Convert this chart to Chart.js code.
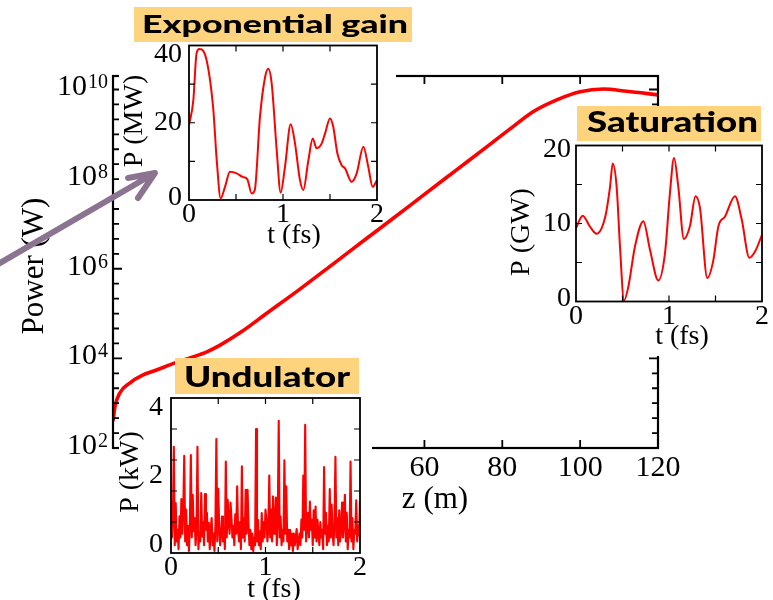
<!DOCTYPE html>
<html><head><meta charset="utf-8">
<script src="https://cdn.jsdelivr.net/npm/chart.js@4.4.0/dist/chart.umd.min.js"></script>
<style>
html,body{margin:0;padding:0;background:#fff;overflow:hidden;}
#wrap{position:relative;width:773px;height:600px;}
canvas{position:absolute;left:0;top:0;}
</style></head><body>
<div id="wrap">
<canvas id="main" width="773" height="600"></canvas>
<canvas id="gain" width="773" height="600"></canvas>
<canvas id="und" width="773" height="600"></canvas>
<canvas id="sat" width="773" height="600"></canvas>
<canvas id="over" width="773" height="600"></canvas>
</div>
<script>
// ---------------- data ----------------
// main curve: undulator position z (m) and power (W)
const mainZ = [-20, -19.5, -18.3, -15.7, -12.4, -8.8, -4.1, 0.5, 4.1, 7.4, 12.6, 19.4, 28.1, 36.6, 45.2, 51.9, 60, 68, 76, 82, 88, 94, 100, 106, 112, 120];
const mainPower = [398, 832, 1660, 2818, 4217, 5495, 7943, 10715, 13964, 19498, 37154, 1.0e5, 3.548e5, 1.288e6, 4.786e6, 1.318e7, 4.571e7, 1.549e8, 5.248e8, 1.318e9, 3.236e9, 5.888e9, 8.913e9, 1.023e10, 9.12e9, 7.586e9];
const mainYTickExponents = [2, 4, 6, 8, 10];
const mainXTickLabels = [0, 20, 40, 60, 80, 100, 120];

// inset "Exponential gain": t (fs), P (MW)
const gainT = [0, 0.046, 0.08, 0.11, 0.152, 0.205, 0.259, 0.295, 0.337, 0.383, 0.436, 0.507, 0.57, 0.62, 0.667, 0.70, 0.755, 0.81, 0.844, 0.88, 0.933, 0.975, 1.021, 1.082, 1.128, 1.18, 1.216, 1.27, 1.316, 1.358, 1.411, 1.447, 1.5, 1.535, 1.578, 1.624, 1.66, 1.73, 1.784, 1.855, 1.907, 1.954, 2.0];
const gainP = [19.4, 25.8, 37.9, 39.1, 38.6, 34.0, 23.3, 10.3, 0.4, 3.4, 7.3, 6.9, 6.0, 5.4, 1.7, 2.6, 21.5, 31.9, 34.0, 30.1, 12.9, 1.9, 8.6, 19.6, 14.6, 5.2, 2.6, 10.3, 15.9, 13.4, 14.6, 17.2, 21.1, 18.9, 12.1, 9.0, 8.2, 4.7, 6.9, 13.8, 8.6, 3.4, 5.2];
const gainXTickLabels = [0, 1, 2];
const gainYTickLabels = [0, 20, 40];

// inset "Saturation": t (fs), P (GW)
const satT = [0, 0.072, 0.15, 0.222, 0.315, 0.366, 0.395, 0.437, 0.473, 0.516, 0.563, 0.634, 0.724, 0.796, 0.885, 0.957, 1.01, 1.054, 1.1, 1.16, 1.226, 1.285, 1.333, 1.412, 1.477, 1.53, 1.602, 1.71, 1.782, 1.864, 1.925, 2.0];
const satP = [9.4, 11.0, 9.6, 8.7, 10.9, 14.7, 17.7, 14.7, 7.05, 0.13, 1.9, 7.05, 10.3, 6.6, 2.7, 6.2, 13.9, 18.4, 14.7, 8.0, 9.7, 13.5, 12.0, 3.0, 5.3, 9.6, 10.9, 13.5, 10.5, 5.6, 6.4, 8.55];
const satXTickLabels = [0, 1, 2];
const satYTickLabels = [0, 10, 20];

// inset "Undulator": P (kW) sampled every 0.01 fs from t = 0 to 2
const undStep = 0.01;
const undP = [
1.30,0.40,0.90,2.74,0.20,1.29,0.30,0.60,0.10,0.95,
0.40,1.39,0.50,1.10,2.51,0.30,1.12,0.20,0.70,0.05,
0.80,2.53,0.40,1.50,0.56,0.90,0.20,0.60,2.74,0.10,
0.50,0.30,1.55,0.43,0.80,0.20,1.52,0.60,1.04,0.30,
0.78,0.10,0.60,0.90,0.20,0.50,0.05,0.70,2.94,0.30,
1.66,0.68,0.20,0.50,0.94,0.30,0.60,0.10,2.36,0.40,
1.37,0.80,0.50,1.30,0.90,0.40,0.70,0.20,1.00,0.50,
1.72,0.60,0.30,0.80,0.10,2.24,0.40,0.90,0.30,1.63,
0.50,1.63,0.78,0.20,0.60,0.10,0.50,0.05,0.40,0.20,
3.20,0.30,0.86,0.20,0.56,0.10,1.03,0.30,0.80,0.40,
1.12,0.86,0.30,0.60,2.00,0.40,1.12,0.30,1.46,0.50,
0.70,1.43,0.20,0.90,3.41,0.40,0.94,0.20,0.60,0.30,
2.39,0.50,1.72,0.30,0.60,0.10,0.60,0.20,0.50,0.05,
0.50,0.20,0.40,0.62,0.10,0.30,0.50,0.20,0.86,0.40,
2.00,0.60,3.31,0.30,0.70,1.04,0.40,1.33,0.60,0.86,
0.20,1.10,0.40,1.20,0.30,0.86,0.50,0.20,0.80,0.40,
0.60,0.10,2.22,0.50,1.04,0.20,0.70,0.30,1.65,0.40,
1.25,0.50,0.20,0.80,2.48,0.40,0.90,0.20,1.10,0.30,
0.60,1.30,0.40,0.80,1.50,0.30,1.04,0.10,0.60,0.40,
2.36,0.30,0.90,0.10,0.60,0.50,1.36,0.30,0.70,0.45,
1.33];
const undXTickLabels = [0, 1, 2];
const undYTickLabels = [0, 2, 4];
const undYTickMarks = [0.8, 1.6, 2.4, 3.2];

// ---------------- helpers ----------------
const SERIF = '"Liberation Serif","Times New Roman",serif';
const RED = '#ff0000';

const decor = {
  id: 'decor',
  beforeDraw(chart, _a, o) {
    if (!o.cover) return;
    const c = o.cover, ctx = chart.ctx;
    ctx.save(); ctx.fillStyle = '#fff';
    ctx.fillRect(c[0], c[1], c[2] - c[0], c[3] - c[1]);
    ctx.restore();
  },
  afterDatasetsDraw(chart, _a, o) {
    const ctx = chart.ctx, a = chart.chartArea, xs = chart.scales.x, ys = chart.scales.y;
    ctx.save();
    ctx.strokeStyle = '#000';
    ctx.lineWidth = o.frameWidth;
    ctx.strokeRect(a.left, a.top, a.right - a.left, a.bottom - a.top);
    ctx.lineWidth = o.tickWidth;
    ctx.beginPath();
    o.xMarks.forEach(m => {
      const p = xs.getPixelForValue(m.v);
      ctx.moveTo(p, a.bottom); ctx.lineTo(p, a.bottom - m.len);
      ctx.moveTo(p, a.top); ctx.lineTo(p, a.top + m.len);
    });
    o.yMarks.forEach(m => {
      const p = ys.getPixelForValue(m.v);
      ctx.moveTo(a.left, p); ctx.lineTo(a.left + m.len, p);
      ctx.moveTo(a.right, p); ctx.lineTo(a.right - m.len, p);
    });
    ctx.stroke();
    ctx.fillStyle = '#000';
    ctx.font = o.tickFont;
    ctx.textAlign = 'center'; ctx.textBaseline = 'middle';
    o.xLabels.forEach(l => ctx.fillText(l.text, xs.getPixelForValue(l.v), a.bottom + o.xLabelDy));
    o.yLabels.forEach(l => {
      let p = ys.getPixelForValue(l.v);
      p = Math.min(Math.max(p, a.top + o.yClampTop), a.bottom - o.yClampBottom);
      const xr = a.left - o.yLabelGap;
      if (l.exp !== undefined) {
        ctx.textBaseline = 'alphabetic'; ctx.textAlign = 'right';
        ctx.font = o.supFont;
        const w = ctx.measureText(l.exp).width;
        ctx.fillText(l.exp, xr, p + o.supDy);
        ctx.font = o.tickFont;
        ctx.fillText(l.base, xr - w - 1, p + o.baseDy);
      } else {
        ctx.textAlign = 'right'; ctx.textBaseline = 'middle';
        ctx.fillText(l.text, xr, p);
      }
    });
    ctx.font = o.titleFont; ctx.textAlign = 'center'; ctx.textBaseline = 'middle';
    o.titles.forEach(t => {
      ctx.save(); ctx.translate(t.x, t.y); if (t.rot) ctx.rotate(-Math.PI / 2);
      ctx.fillText(t.text, 0, 0); ctx.restore();
    });
    ctx.restore();
  }
};

function stepMarks(min, max, step, len) {
  const out = [];
  for (let v = min + step; v < max - 1e-9; v += step) out.push({ v: +v.toFixed(6), len });
  return out;
}

function baseOptions(pad, xs, ys, deco) {
  return {
    responsive: false, animation: false, devicePixelRatio: 1, events: [],
    layout: { padding: pad },
    plugins: { legend: { display: false }, tooltip: { enabled: false }, decor: deco },
    scales: {
      x: Object.assign({ type: 'linear', display: false }, xs),
      y: Object.assign({ type: 'linear', display: false }, ys)
    }
  };
}

// ---------------- main chart ----------------
const mainYMarks = [];
for (let k = 6; k <= 30; k++) {
  const e = k / 3;
  if (Math.pow(10, e) > 2e10) break;
  mainYMarks.push({ v: Math.pow(10, e), len: (k % 6 === 0) ? 9 : 6 });
}
const mainXMarks = mainXTickLabels.filter(v => v < 120).map(v => ({ v, len: 8 }));

new Chart(document.getElementById('main'), {
  type: 'line',
  data: { datasets: [{
    data: mainZ.map((z, i) => ({ x: z, y: mainPower[i] })),
    borderColor: RED, borderWidth: 3.6, pointRadius: 0, fill: false,
    cubicInterpolationMode: 'monotone'
  }] },
  options: baseOptions({ left: 113, top: 76, right: 115, bottom: 152 },
    { min: -20, max: 120 },
    { type: 'logarithmic', min: 100, max: 2e10 },
    {
      frameWidth: 2.2, tickWidth: 1.8,
      xMarks: mainXMarks, yMarks: mainYMarks,
      tickFont: '30px ' + SERIF, supFont: '20px ' + SERIF, titleFont: '31px ' + SERIF,
      xLabels: mainXTickLabels.map(v => ({ v, text: String(v) })), xLabelDy: 20,
      yLabels: mainYTickExponents.map(e => ({ v: Math.pow(10, e), base: '10', exp: String(e) })),
      yLabelGap: 5, yClampTop: -50, yClampBottom: -50, supDy: -1, baseDy: 6,
      titles: [{ text: 'Power (W)', x: 35, y: 266, rot: true }, { text: 'z (m)', x: 435, y: 500 }]
    }),
  plugins: [decor]
});

// ---------------- insets ----------------
function inset(id, pad, xr, yr, pts, bw, tension, deco) {
  new Chart(document.getElementById(id), {
    type: 'line',
    data: { datasets: [{
      data: pts, borderColor: RED, borderWidth: bw, pointRadius: 0, fill: false,
      tension: tension, cubicInterpolationMode: tension ? 'monotone' : 'default',
      borderJoinStyle: 'round'
    }] },
    options: baseOptions(pad, xr, yr, deco),
    plugins: [decor]
  });
}

inset('gain', { left: 189, top: 45.5, right: 396, bottom: 400 },
  { min: 0, max: 2 }, { min: 0, max: 40 },
  gainT.map((t, i) => ({ x: t, y: gainP[i] })), 2, 0.4,
  {
    cover: [119, 44, 396, 205], frameWidth: 1.8, tickWidth: 1.2,
    xMarks: stepMarks(0, 2, 0.5, 6), yMarks: stepMarks(0, 40, 10, 6),
    tickFont: '28px ' + SERIF, titleFont: '28px ' + SERIF,
    xLabels: gainXTickLabels.map(v => ({ v, text: String(v) })), xLabelDy: 15,
    yLabels: gainYTickLabels.map(v => ({ v, text: String(v) })),
    yLabelGap: 7, yClampTop: 9.5, yClampBottom: 2,
    titles: [{ text: 'P (MW)', x: 135, y: 121, rot: true }, { text: 't (fs)', x: 294, y: 236 }]
  });

inset('und', { left: 171, top: 398, right: 413, bottom: 47 },
  { min: 0, max: 2 }, { min: 0, max: 4 },
  undP.map((p, i) => ({ x: i * undStep, y: p })), 2.1, 0,
  {
    cover: [119, 404, 372, 562], frameWidth: 1.8, tickWidth: 1.2,
    xMarks: stepMarks(0, 2, 0.5, 6), yMarks: undYTickMarks.map(v => ({ v, len: 6 })),
    tickFont: '28px ' + SERIF, titleFont: '28px ' + SERIF,
    xLabels: undXTickLabels.map(v => ({ v, text: String(v) })), xLabelDy: 15,
    yLabels: undYTickLabels.map(v => ({ v, text: String(v) })),
    yLabelGap: 8, yClampTop: 10, yClampBottom: 8,
    titles: [{ text: 'P (kW)', x: 131, y: 472, rot: true }, { text: 't (fs)', x: 274, y: 590 }]
  });

inset('sat', { left: 576, top: 145.5, right: 11, bottom: 298.5 },
  { min: 0, max: 2 }, { min: 0, max: 20 },
  satT.map((t, i) => ({ x: t, y: satP[i] })), 2, 0.4,
  {
    cover: [562, 141, 773, 356], frameWidth: 1.8, tickWidth: 1.2,
    xMarks: stepMarks(0, 2, 0.5, 6), yMarks: stepMarks(0, 20, 5, 6),
    tickFont: '28px ' + SERIF, titleFont: '28px ' + SERIF,
    xLabels: satXTickLabels.map(v => ({ v, text: String(v) })), xLabelDy: 15,
    yLabels: satYTickLabels.map(v => ({ v, text: String(v) })),
    yLabelGap: 5, yClampTop: 4.5, yClampBottom: 3,
    titles: [{ text: 'P (GW)', x: 522, y: 232, rot: true }, { text: 't (fs)', x: 682, y: 337 }]
  });

// ---------------- labels and arrow ----------------
const oc = document.getElementById('over').getContext('2d');
function labelBox(text, box, size, tl, tr, base) {
  oc.fillStyle = 'rgb(253,211,125)';
  oc.fillRect(box[0], box[1], box[2] - box[0], box[3] - box[1]);
  oc.font = '900 ' + size + 'px Lato, "Open Sans", sans-serif';
  const w = oc.measureText(text).width;
  oc.save();
  oc.translate(tl, base); oc.scale((tr - tl) / w, 1);
  oc.fillStyle = '#000'; oc.textAlign = 'left'; oc.textBaseline = 'alphabetic';
  oc.fillText(text, 0, 0);
  oc.restore();
}
labelBox('Exponential gain', [134, 7, 412, 42], 25, 142, 408, 33);
labelBox('Undulator', [175, 358, 359, 394], 28, 184, 350, 387);
labelBox('Saturation', [577, 106, 761, 141], 28, 587, 758, 131.5);

oc.strokeStyle = 'rgb(139,116,143)';
oc.lineWidth = 6; oc.lineCap = 'round'; oc.lineJoin = 'round';
oc.beginPath();
oc.moveTo(-5, 266); oc.lineTo(154, 173.5);
oc.moveTo(128, 178); oc.lineTo(155, 173); oc.lineTo(138, 198);
oc.stroke();
</script>
</body></html>
